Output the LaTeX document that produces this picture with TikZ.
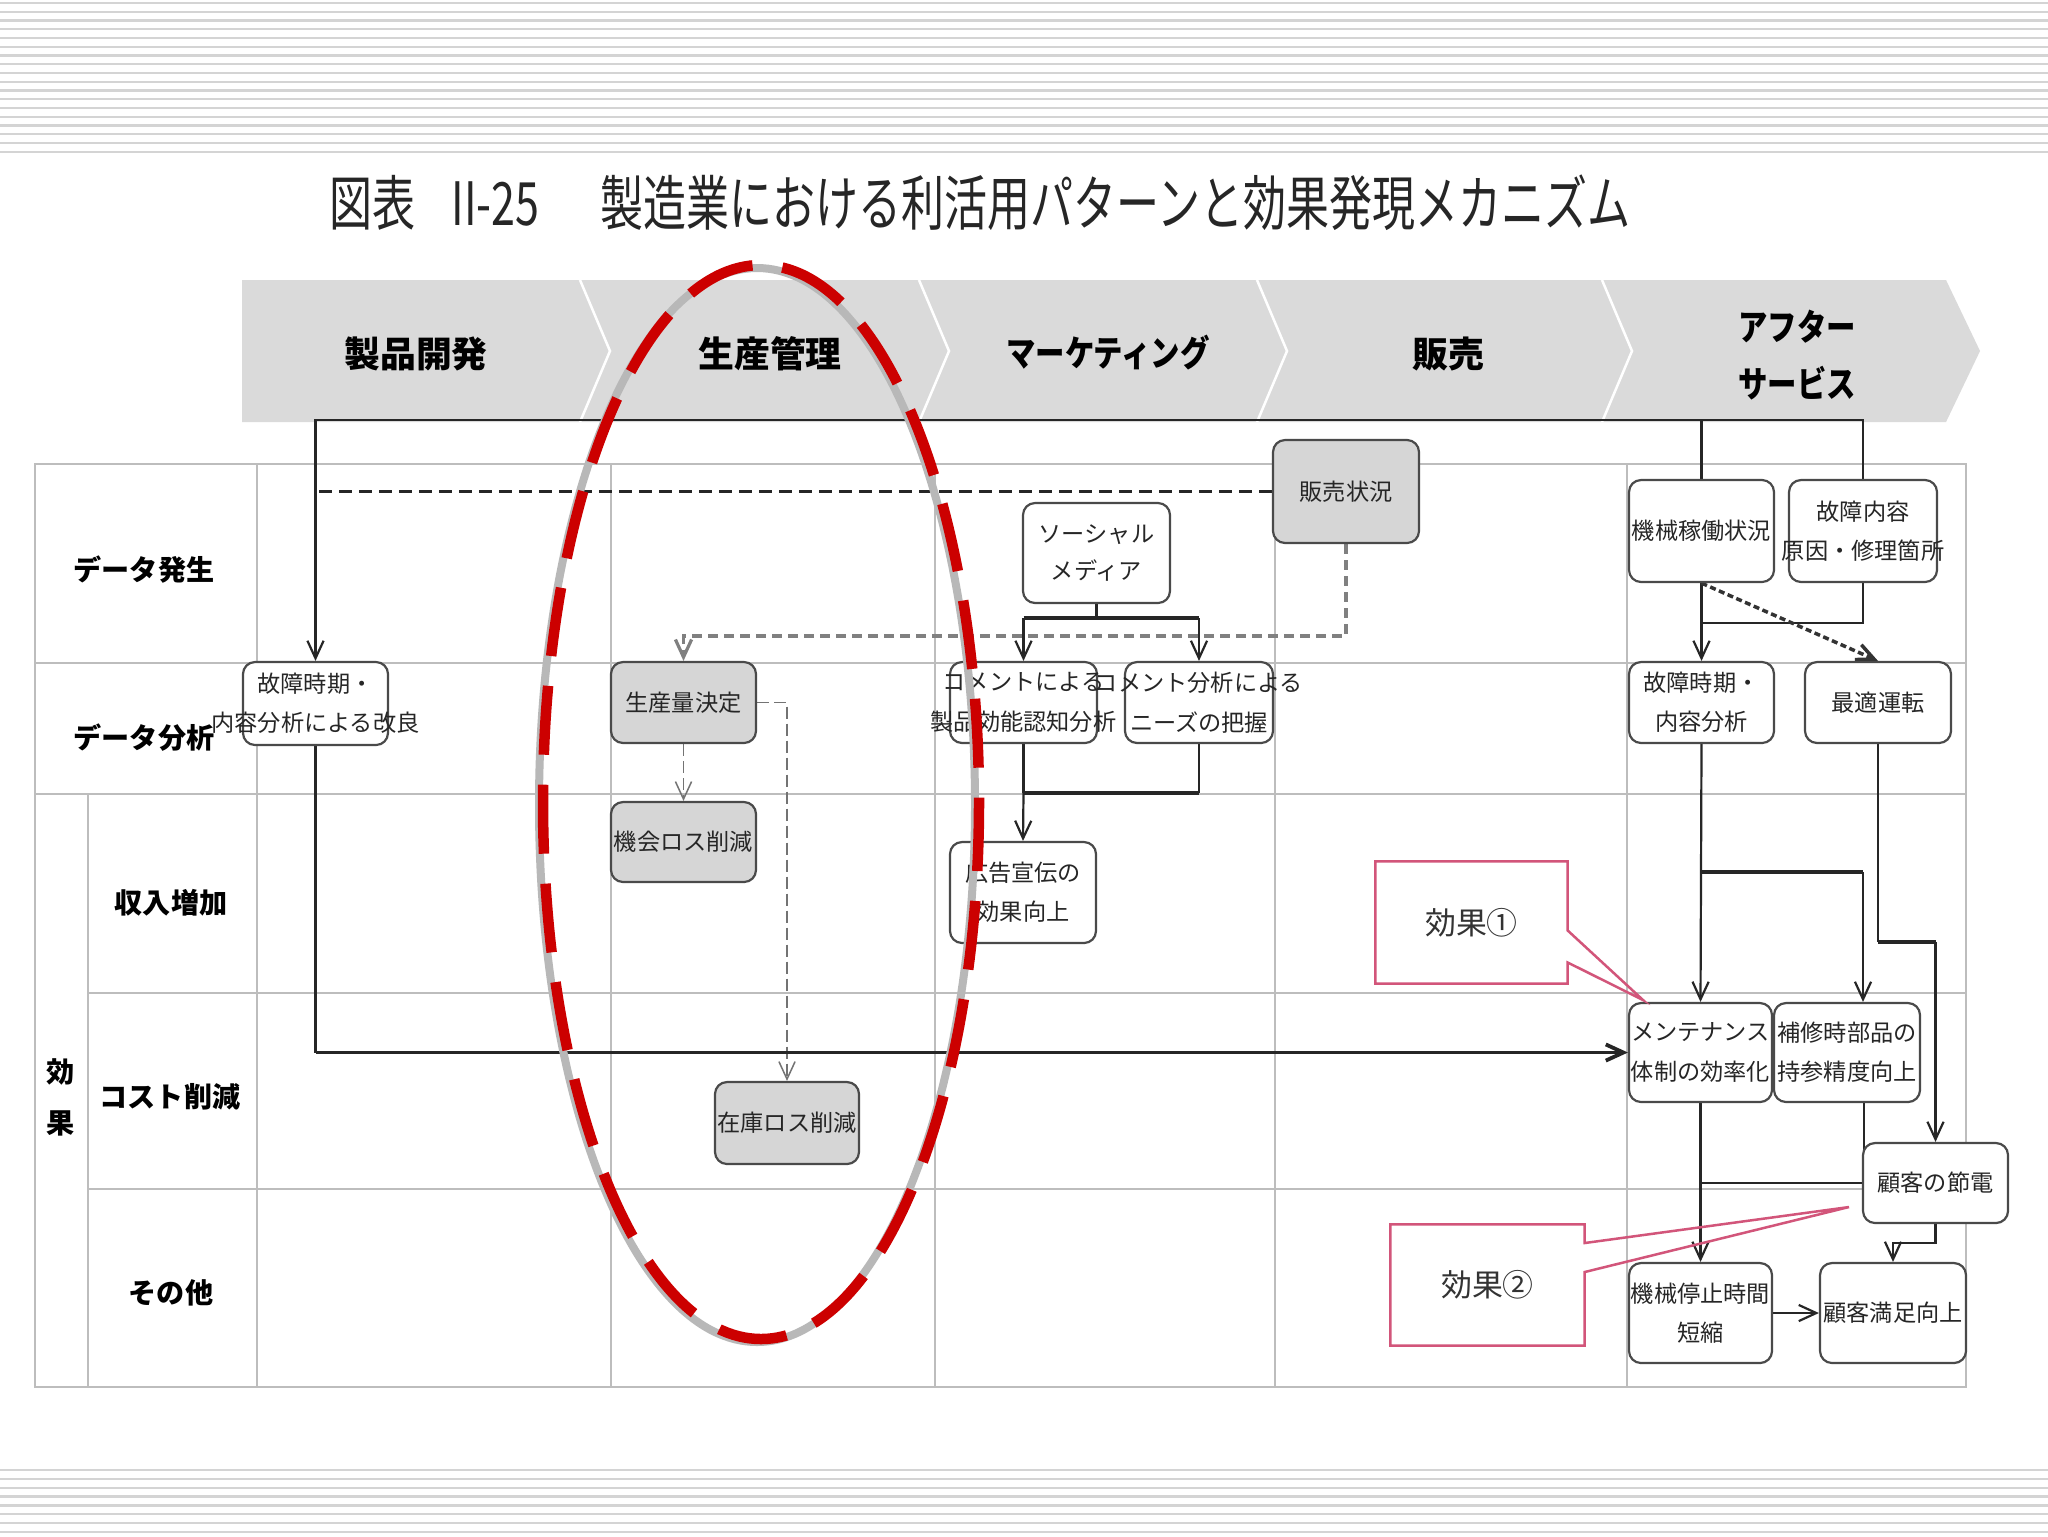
\documentclass[tikz,border=0pt]{standalone}
\usepackage{fontspec}
\setmainfont{Noto Sans CJK JP}
\newfontfamily\jpc[FakeStretch=0.82]{Noto Sans CJK JP}
\newfontfamily\jpt[FakeStretch=0.72]{Noto Sans CJK JP}
\usetikzlibrary{arrows.meta,calc}
\pgfdeclarelayer{back}
\pgfsetlayers{back,main}

\definecolor{bandgray}{HTML}{DADADA}
\definecolor{gridgray}{HTML}{BDBDBD}
\definecolor{boxgray}{HTML}{D6D6D6}
\definecolor{edgec}{HTML}{4A4A4A}
\definecolor{pinkk}{HTML}{D2557A}
\definecolor{ellred}{HTML}{CC0000}
\definecolor{stripec}{HTML}{D4D4D4}

\tikzset{
  sz/.style 2 args={minimum width=#1mm, minimum height=#2mm},
  wbox/.style={draw=edgec, line width=0.22mm, rounded corners=1.2mm, fill=white, inner sep=0pt,
    align=center, font=\fontsize{6.6pt}{11.2pt}\selectfont, text=black!85},
  gbox/.style={wbox, fill=boxgray},
  txt/.style={align=center, inner sep=0pt, font=\fontsize{6.6pt}{11.2pt}\selectfont, text=black!85},
  hdr/.style={inner sep=0pt, align=center, font=\bfseries\fontsize{10.2pt}{16pt}\selectfont},
  hdrc/.style={inner sep=0pt, align=center, font=\jpc\bfseries\fontsize{10.2pt}{16pt}\selectfont},
  rowl/.style={inner sep=0pt, align=center, font=\bfseries\fontsize{8pt}{14pt}\selectfont},
  callout/.style={fill=white, inner sep=0pt, font=\fontsize{8.8pt}{10pt}\selectfont, text=black!80},
  conn/.style={draw=black!85, line width=0.22mm},
  thickc/.style={draw=black!85, line width=0.38mm},
  arr/.style={-{Straight Barb[length=5pt,width=4.6pt]}},
  blkdash/.style={draw=black!85, line width=0.22mm, dash pattern=on 1.3mm off 0.7mm},
  gdash/.style={draw=black!50, line width=0.32mm, dash pattern=on 1mm off 0.6mm},
  tdash/.style={draw=black!55, line width=0.15mm, dash pattern=on 1.2mm off 0.5mm},
  dotc/.style={draw=black!80, line width=0.35mm, dash pattern=on 0.6mm off 0.35mm},
  gridl/.style={draw=gridgray, line width=0.2mm},
}

\begin{document}
\begin{tikzpicture}[x=0.1mm, y=-0.1mm]
\useasboundingbox (0,0) rectangle (2048,1536);

% ---------- title ----------
\node[anchor=west, inner sep=0pt, font=\jpt\fontsize{17pt}{20pt}\selectfont, text=black!85] (title) at (329,203)
  {図表\hspace{3.6mm}II-25\hspace{6.1mm}製造業における利活用パターンと効果発現メカニズム};

% ---------- header labels ----------
\node[hdr] (h1) at (416,354) {製品開発};
\node[hdr] (h2) at (770,354) {生産管理};
\node[hdrc] (h3) at (1108,353) {マーケティング};
\node[hdr] (h4) at (1448,354) {販売};
\node[hdrc] (h5) at (1797,355) {アフター\\サービス};

% ---------- row labels ----------
\node[rowl] (r1) at (144,570) {データ発生};
\node[rowl] (r2) at (144,738) {データ分析};
\node[rowl] (r3) at (171,903) {収入増加};
\node[rowl] (r4) at (170,1097) {コスト削減};
\node[rowl] (r5) at (171,1293) {その他};
\node[rowl, font=\bfseries\fontsize{8pt}{14.5pt}\selectfont] (r0) at (61,1097) {効\\果};

% ---------- boxes ----------
\node[wbox, sz={14.5}{8.3}] (b1) at (315.5,703.5) {};
\node[txt] (b1t) at (b1) {故障時期・\\内容分析による改良};
\node[gbox, sz={14.5}{8.1}] (b2) at (683.5,702.5) {生産量決定};
\node[gbox, sz={14.5}{8.0}] (b3) at (683.5,842) {機会ロス削減};
\node[gbox, sz={14.4}{8.2}] (b4) at (787,1123) {在庫ロス削減};
\node[wbox, sz={14.7}{10.0}, font=\fontsize{6.6pt}{10.6pt}\selectfont] (b5) at (1096.5,553) {ソーシャル\\メディア};
\node[gbox, sz={14.6}{10.3}] (b6) at (1346,491.5) {販売状況};
\node[wbox, sz={14.7}{8.1}] (b7) at (1023.5,702.5) {};
\node[txt] (b7t) at (b7) {コメントによる\\製品効能認知分析};
\node[wbox, sz={14.8}{8.1}] (b8) at (1199,702.5) {};
\node[txt] (b8t) at (b8) {コメント分析による\\ニーズの把握};
\node[wbox, sz={14.6}{10.1}] (b9) at (1023,892.5) {広告宣伝の\\効果向上};
\node[wbox, sz={14.5}{10.2}] (b10) at (1701.5,531) {機械稼働状況};
\node[wbox, sz={14.8}{10.2}] (b11) at (1863,531) {};
\node[txt] (b11t) at (b11) {故障内容\\原因・修理箇所};
\node[wbox, sz={14.5}{8.1}] (b12) at (1701.5,702.5) {故障時期・\\内容分析};
\node[wbox, sz={14.6}{8.1}] (b13) at (1878,702.5) {最適運転};
\node[wbox, sz={14.3}{9.9}] (b14) at (1700.5,1052.5) {メンテナンス\\体制の効率化};
\node[wbox, sz={14.6}{9.9}] (b15) at (1847,1052.5) {補修時部品の\\持参精度向上};
\node[wbox, sz={14.5}{8.0}] (b16) at (1935.5,1183) {顧客の節電};
\node[wbox, sz={14.3}{10.0}] (b17) at (1700.5,1313) {機械停止時間\\短縮};
\node[wbox, sz={14.6}{10.0}] (b18) at (1893,1313) {顧客満足向上};

% ---------- background layer: stripes, band, grid, connectors ----------
\begin{pgfonlayer}{back}
  \fill[white] (0,0) rectangle (2048,1536);
  \foreach \i in {0,...,17} { \draw[stripec, line width=0.22mm] (0,3+\i*8.75) -- (2048,3+\i*8.75); }
  \foreach \i in {0,...,7} { \draw[stripec, line width=0.22mm] (0,1470+\i*8.85) -- (2048,1470+\i*8.85); }
  % header band
  \fill[bandgray] (242,280) -- (1946,280) -- (1980,351) -- (1946,422) -- (242,422) -- cycle;
  \foreach \s in {580,919,1257,1602} { \draw[white, line width=0.25mm] (\s,280) -- (\s+30,351) -- (\s,422); }
  % table grid
  \draw[gridl] (35,464) rectangle (1966,1387);
  \foreach \xx in {257,611,935,1275,1627} { \draw[gridl] (\xx,464) -- (\xx,1387); }
  \draw[gridl] (88,794) -- (88,1387);
  \draw[gridl] (35,663) -- (1966,663);
  \draw[gridl] (35,794) -- (1966,794);
  \draw[gridl] (88,993) -- (1966,993);
  \draw[gridl] (88,1189) -- (1966,1189);

  % bracket from after-service to product development
  \coordinate (bl) at (315.5,420);
  \draw[conn] (b10.north) -- (b10.north |- bl);
  \draw[conn, arr] (b11.north) |- (bl) -- (b1.north);
  % sales situation
  \draw[blkdash] (b6.west) -- (b6.west -| b1.north);
  \coordinate (sd) at (1346,636);
  \draw[gdash, arr] (b6.south) -- (sd) -| (b2.north);
  % social media
  \coordinate (smb) at (1096.5,618);
  \draw[conn] (b5.south) -- (smb);
  \draw[thickc] (b7.north |- smb) -- (b8.north |- smb);
  \draw[conn, arr] (b7.north |- smb) -- (b7.north);
  \draw[conn, arr] (b8.north |- smb) -- (b8.north);
  % comments to advertising
  \coordinate (cmb) at (1111,793);
  \draw[conn] (b7.south) -- (b7.south |- cmb);
  \draw[conn] (b8.south) -- (b8.south |- cmb);
  \draw[thickc] (b7.south |- cmb) -- (b8.south |- cmb);
  \draw[conn, arr] (b7.south |- cmb) -- (b9.north);
  % production
  \draw[tdash, arr] (b2.south) -- (b3.north);
  \draw[tdash, arr] (b2.east) -| (b4.north);
  % improvement to maintenance
  \draw[conn] (b1.south) -- (b1.south |- b14.west);
  \draw[thickc, arr] (b1.south |- b14.west) -- (b14.west);
  % after service
  \draw[conn, arr] (b10.south) -- (b12.north);
  \coordinate (fj) at (1701.5,623);
  \draw[conn] (b11.south) |- (fj);
  \draw[dotc, arr] (b10.south) -- (b13.north);
  \draw[conn, arr] (b12.south) -- (b14.north);
  \coordinate (mj) at (1701.5,872);
  \coordinate (mr) at (1863,872);
  \draw[thickc] (mj) -- (mr);
  \draw[conn, arr] (mr) -- (mr |- b15.north);
  \coordinate (oj) at (1878,942);
  \draw[conn] (b13.south) -- (oj);
  \draw[thickc] (oj) -- (oj -| b16.north);
  \draw[conn, arr] (oj -| b16.north) -- (b16.north);
  \draw[conn, arr] (b14.south) -- (b17.north);
  \coordinate (rj) at (1864,1183);
  \draw[conn] (rj |- b15.south) -- (rj) -- (rj -| b14.south);
  \coordinate (sj) at (1935.5,1243);
  \draw[conn, arr] (b16.south) -- (sj) -| (b18.north);
  \draw[conn, arr] (b17.east) -- (b18.west);
\end{pgfonlayer}

% ---------- callouts ----------
\node[callout, sz={19.1}{12.1}] (k1) at (1471.5,922.5) {効果①};
\coordinate (t1) at (1643,1000);
\draw[pinkk, line width=0.25mm] ($(k1.east)+(0,8)$) -- (k1.north east) -- (k1.north west) -- (k1.south west)
  -- (k1.south east) -- ($(k1.east)+(0,40)$) -- (t1) -- cycle;
\node[callout, sz={19.3}{12.0}] (k2) at (1487.5,1285) {効果②};
\coordinate (t2) at (1849,1207);
\draw[pinkk, line width=0.25mm] ($(k2.east)+(0,-42)$) -- (k2.north east) -- (k2.north west) -- (k2.south west)
  -- (k2.south east) -- ($(k2.east)+(0,-13)$) -- (t2) -- cycle;

% ---------- red dashed ellipse ----------
\draw[black!28, line width=0.8mm] (757,805) ellipse [x radius=218, y radius=537];
\draw[ellred, line width=1.05mm, dash pattern=on 6.9mm off 3.0mm] (761,802) ellipse [x radius=218, y radius=537];
\end{tikzpicture}
\end{document}
